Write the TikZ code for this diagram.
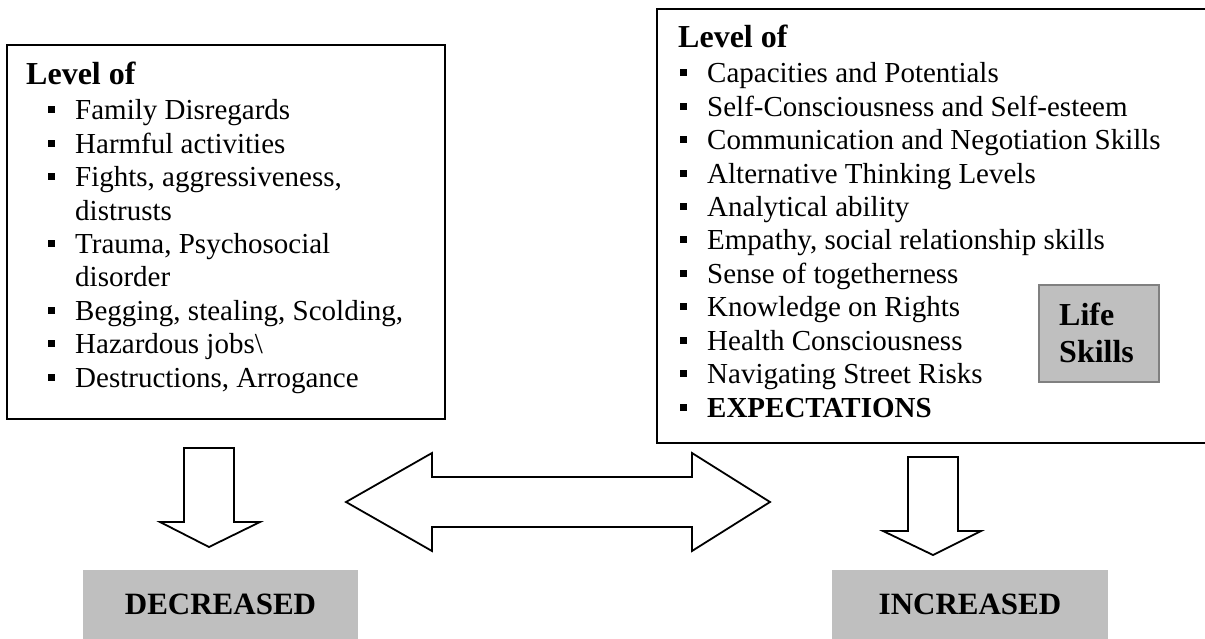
\documentclass[tikz,border=0pt]{standalone}
\usepackage{fontspec}
\setmainfont{Liberation Serif}
\begin{document}
\begin{tikzpicture}[x=1pt,y=-1pt,
  frame/.style={draw=black,line width=2pt,fill=white},
  item/.style={anchor=base west,inner sep=0pt,font=\fontsize{29}{33}\selectfont},
  head/.style={anchor=base west,inner sep=0pt,font=\fontsize{32}{37}\selectfont\bfseries},
  sq/.style={fill=black},
  grayrect/.style={fill=gray!50!white,draw=none},
  blockarrow/.style={draw=black,line width=1.8pt,fill=white,line join=miter}]
\useasboundingbox (0,0) rectangle (1205,639);
\clip (0,0) rectangle (1205,639);
% left box
\draw[frame] (7,45) rectangle (445,419);
\node[head] (lhead) at (26,85) {Level of};
\foreach \t/\b/\y [count=\i] in {Family Disregards/1/120, Harmful activities/1/153.4, {Fights, aggressiveness,}/1/186.8, distrusts/0/220.2, {Trauma, Psychosocial}/1/253.6, disorder/0/287, {Begging, stealing, Scolding,}/1/320.4, {Hazardous jobs\textbackslash}/1/353.8, {Destructions, Arrogance}/1/387.2}{
  \node[item] (l\i) at (75,\y) {\t};
  \ifnum\b=1 \fill[sq] (48,\y-13.5) rectangle ++(7,7); \fi
}
% right box
\draw[frame] (657,9) rectangle (1215,443);
\node[head] (rhead) at (678,48) {Level of};
\foreach \t [count=\i from 0] in {Capacities and Potentials, Self-Consciousness and Self-esteem, Communication and Negotiation Skills, Alternative Thinking Levels, Analytical ability, {Empathy, social relationship skills}, Sense of togetherness, Knowledge on Rights, Health Consciousness, Navigating Street Risks}{
  \node[item] (r\i) at (707,83+33.4*\i) {\t};
  \fill[sq] (680,83+33.4*\i-13.5) rectangle ++(7,7);
}
\node[item,font=\fontsize{29}{33}\selectfont\bfseries] (r10) at (707,417) {EXPECTATIONS};
\fill[sq] (680,417-13.5) rectangle ++(7,7);
% life skills
\node[draw=gray,line width=2pt,fill=gray!50!white,minimum width=120pt,minimum height=97pt,inner sep=0pt] (life) at (1099,333.5) {};
\node[head] (lifet1) at (1059,325) {Life};
\node[head] (lifet2) at (1059,362) {Skills};
% arrows
\draw[blockarrow] (184,448) -- (234,448) -- (234,522) -- (260,522) -- (209,547) -- (160,522) -- (184,522) -- cycle;
\draw[blockarrow] (908,457) -- (958,457) -- (958,531) -- (981,531) -- (933,555) -- (883,531) -- (908,531) -- cycle;
\draw[blockarrow] (346,502) -- (432,453) -- (432,477) -- (692,477) -- (692,453) -- (770,502) -- (692,551) -- (692,527) -- (432,527) -- (432,551) -- cycle;
% result boxes
\node[grayrect,minimum width=275pt,minimum height=70pt,inner sep=0pt,font=\fontsize{31}{36}\selectfont\bfseries] (dec) at (220.5,604.5) {DECREASED};
\node[grayrect,minimum width=276pt,minimum height=70pt,inner sep=0pt,font=\fontsize{31}{36}\selectfont\bfseries] (inc) at (970,604.5) {INCREASED};
\end{tikzpicture}
\end{document}
